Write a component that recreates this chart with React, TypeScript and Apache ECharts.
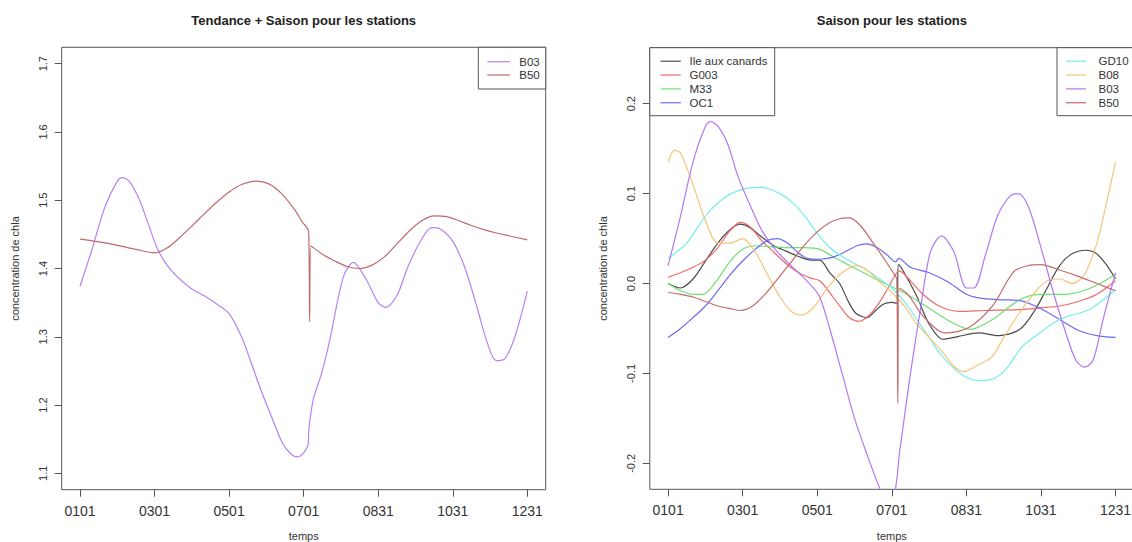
import React, { useEffect, useRef } from "react";
import * as echarts from "echarts";

const FONT = '"Liberation Sans", Arial, Helvetica, sans-serif';

// Axis ticks
const xTickDays = [0, 60, 120, 180, 240, 300, 360];
const xTickLabels = ["0101", "0301", "0501", "0701", "0831", "1031", "1231"];
const leftYTicks = [1.1, 1.2, 1.3, 1.4, 1.5, 1.6, 1.7];
const rightYTicks = [-0.2, -0.1, 0, 0.1, 0.2];

const titleLeft = "Tendance + Saison pour les stations";
const titleRight = "Saison pour les stations";
const xName = "temps";
const yName = "concentration de chla";

// ---- Left panel: Tendance + Saison ----
const totalB03 = [
  [0, 1.374], [10, 1.43], [20, 1.49], [30, 1.528], [34, 1.533], [40, 1.527], [48, 1.5],
  [55, 1.465], [62, 1.43], [70, 1.405], [80, 1.385], [90, 1.37], [100, 1.36], [110, 1.348], [120, 1.334],
  [130, 1.3], [137, 1.266], [145, 1.225], [153, 1.188], [163, 1.144], [170, 1.128], [175, 1.124],
  [180, 1.13], [183.5, 1.142], [184.2, 1.165], [186, 1.19], [188, 1.21], [195, 1.25], [201, 1.295],
  [212, 1.388], [220, 1.409], [230, 1.385], [240, 1.35], [246, 1.343], [255, 1.36], [264, 1.403],
  [274, 1.44], [283, 1.46], [290, 1.458], [300, 1.44], [310, 1.40], [320, 1.34], [328, 1.29],
  [335, 1.265], [342, 1.268], [350, 1.3], [360, 1.367],
];
const totalB50 = [
  [0, 1.443], [15, 1.439], [30, 1.434], [45, 1.428], [60, 1.423], [70, 1.43], [80, 1.445],
  [90, 1.462], [100, 1.48], [110, 1.497], [120, 1.512], [130, 1.523], [142, 1.528], [152, 1.524],
  [162, 1.51], [172, 1.488], [179, 1.468], [184, 1.454], [184.8, 1.322], [185.8, 1.433],
  [195, 1.421], [205, 1.411], [215, 1.403], [225, 1.4], [235, 1.405], [245, 1.417], [255, 1.436],
  [265, 1.455], [275, 1.47], [285, 1.477], [295, 1.476], [305, 1.47], [315, 1.463], [325, 1.457],
  [335, 1.452], [345, 1.448], [360, 1.442],
];

// ---- Right panel: Saison ----
const seasIle = [
  [0, 0.0], [10, -0.005], [20, 0.005], [30, 0.025], [40, 0.045], [50, 0.06], [58, 0.066],
  [65, 0.063], [75, 0.052], [85, 0.042], [95, 0.036], [105, 0.03], [115, 0.026], [122, 0.026],
  [130, 0.012], [138, 0.0], [145, -0.02], [151, -0.033], [160, -0.038], [167, -0.03], [173, -0.023],
  [180, -0.021], [184, -0.022], [185.5, 0.021], [190, 0.012], [200, -0.014], [210, -0.045],
  [221, -0.062], [233, -0.059], [250, -0.055], [266, -0.058], [283, -0.051], [295, -0.03],
  [305, -0.005], [315, 0.02], [325, 0.033], [336, 0.037], [344, 0.034], [352, 0.022], [360, 0.005],
];
const seasG003 = [
  [0, 0.007], [10, 0.012], [20, 0.018], [30, 0.026], [40, 0.04], [50, 0.059], [58, 0.068],
  [66, 0.063], [75, 0.048], [85, 0.035], [95, 0.022], [105, 0.012], [115, 0.006], [122, 0.003],
  [130, -0.01], [138, -0.025], [146, -0.038], [154, -0.042], [162, -0.035], [170, -0.021],
  [177, -0.005], [183, 0.01], [186, 0.014], [195, 0.003], [205, -0.012], [218, -0.025],
  [234, -0.031], [255, -0.03], [283, -0.029], [300, -0.027], [315, -0.025], [330, -0.02],
  [345, -0.012], [360, 0.003],
];
const seasM33 = [
  [0, 0.0], [10, -0.008], [20, -0.012], [28, -0.012], [40, 0.005], [50, 0.025], [60, 0.038],
  [70, 0.042], [80, 0.041], [95, 0.04], [110, 0.04], [122, 0.038], [135, 0.028], [146, 0.02],
  [160, 0.01], [170, 0.003], [185, -0.007], [203, -0.021], [224, -0.04], [243, -0.051],
  [261, -0.04], [283, -0.018], [300, -0.012], [320, -0.012], [340, -0.005], [360, 0.01],
];
const seasOC1 = [
  [0, -0.06], [10, -0.05], [20, -0.038], [30, -0.025], [40, -0.008], [50, 0.01], [60, 0.025],
  [70, 0.038], [80, 0.048], [88, 0.05], [96, 0.045], [104, 0.035], [112, 0.028], [122, 0.027],
  [132, 0.029], [142, 0.035], [152, 0.042], [160, 0.044], [168, 0.04], [176, 0.032], [183, 0.024],
  [185.5, 0.028], [195, 0.018], [210, 0.012], [225, 0.002], [240, -0.012], [250, -0.016],
  [265, -0.018], [283, -0.019], [300, -0.028], [315, -0.04], [330, -0.052], [345, -0.058],
  [360, -0.06],
];
const seasGD10 = [
  [0, 0.028], [15, 0.045], [30, 0.075], [45, 0.095], [60, 0.105], [75, 0.107], [90, 0.1],
  [100, 0.09], [110, 0.075], [120, 0.056], [130, 0.04], [140, 0.03], [150, 0.022], [160, 0.015],
  [170, 0.005], [180, -0.005], [190, -0.02], [200, -0.04], [210, -0.06], [220, -0.08],
  [235, -0.1], [250, -0.108], [262, -0.106], [272, -0.095], [285, -0.07], [299, -0.055],
  [315, -0.04], [340, -0.028], [360, -0.007],
];
const seasB08 = [
  [0, 0.135], [5, 0.148], [10, 0.145], [20, 0.11], [30, 0.07], [40, 0.045], [50, 0.045],
  [60, 0.05], [70, 0.035], [80, 0.01], [90, -0.015], [100, -0.032], [108, -0.035], [118, -0.025],
  [128, -0.005], [140, 0.012], [152, 0.02], [160, 0.015], [170, 0.002], [180, -0.01],
  [190, -0.025], [200, -0.045], [210, -0.06], [220, -0.075], [230, -0.092], [238, -0.098],
  [250, -0.09], [261, -0.081], [270, -0.06], [283, -0.032], [295, -0.01], [305, 0.003],
  [315, 0.005], [325, 0.0], [335, 0.01], [345, 0.045], [352, 0.085], [360, 0.135],
];
const seasB03 = [
  [0, 0.02], [10, 0.075], [20, 0.135], [30, 0.175], [34, 0.18], [40, 0.175], [48, 0.155],
  [56, 0.12], [65, 0.09], [75, 0.06], [85, 0.04], [95, 0.025], [105, 0.012], [115, -0.002], [122, -0.015],
  [130, -0.05], [140, -0.1], [150, -0.15], [160, -0.19], [170, -0.227], [176, -0.245],
  [181, -0.24], [184, -0.218], [186, -0.19], [188, -0.17], [195, -0.1], [203, -0.029],
  [211, 0.035], [220, 0.053], [230, 0.035], [240, -0.005], [246, -0.005], [255, 0.03],
  [265, 0.075], [275, 0.097], [282, 0.1], [290, 0.085], [300, 0.04], [310, -0.01], [320, -0.055],
  [328, -0.085], [335, -0.093], [342, -0.085], [350, -0.04], [360, 0.012],
];
const seasB50 = [
  [0, -0.01], [10, -0.012], [20, -0.015], [30, -0.02], [40, -0.025], [50, -0.028], [58, -0.03],
  [68, -0.025], [78, -0.012], [88, 0.005], [98, 0.022], [108, 0.04], [118, 0.055], [128, 0.066],
  [138, 0.072], [146, 0.073], [155, 0.064], [165, 0.045], [175, 0.025], [182, 0.01], [184, 0.005],
  [184.8, -0.133], [185.8, -0.005], [193, -0.012], [205, -0.036], [223, -0.055], [242, -0.049],
  [261, -0.025], [278, 0.013], [290, 0.02], [300, 0.021], [315, 0.015], [330, 0.008], [345, 0.0],
  [360, -0.008],
];

const leftSeries = [
  { name: "B03", data: totalB03, color: "#b484f2" },
  { name: "B50", data: totalB50, color: "#c06a6a" },
];
const rightSeries = [
  { name: "Ile aux canards", data: seasIle, color: "#4a4a4a" },
  { name: "G003", data: seasG003, color: "#f06a6a" },
  { name: "M33", data: seasM33, color: "#70e070" },
  { name: "OC1", data: seasOC1, color: "#6c6cf0" },
  { name: "GD10", data: seasGD10, color: "#72eeee" },
  { name: "B08", data: seasB08, color: "#f8c478" },
  { name: "B03", data: seasB03, color: "#b478f2" },
  { name: "B50", data: seasB50, color: "#c46a6a" },
];
const rightLegendA = ["Ile aux canards", "G003", "M33", "OC1"];
const rightLegendB = ["GD10", "B08", "B03", "B50"];

const AXIS_COLOR = "#555";
const TEXT_COLOR = "#333";

function makeXAxis(gridIndex: number) {
  return {
    type: "value",
    gridIndex,
    position: "bottom",
    min: -14.75,
    max: 374.8,
    name: xName,
    nameLocation: "middle",
    nameGap: 41,
    nameTextStyle: { fontSize: 11, color: TEXT_COLOR, fontFamily: FONT },
    splitLine: { show: false },
    axisLine: { show: false, onZero: false },
    axisTick: {
      show: true,
      inside: false,
      length: 7,
      customValues: xTickDays,
      lineStyle: { color: AXIS_COLOR, width: 1 },
    },
    axisLabel: {
      customValues: xTickDays,
      formatter: (v: number) => {
        const i = xTickDays.indexOf(Math.round(v));
        return i >= 0 ? xTickLabels[i] : "";
      },
      margin: 14,
      fontSize: 14,
      color: TEXT_COLOR,
      fontFamily: FONT,
    },
  };
}

function makeYAxis(gridIndex: number, min: number, max: number, ticks: number[]) {
  return {
    type: "value",
    gridIndex,
    position: "left",
    min,
    max,
    name: yName,
    nameLocation: "middle",
    nameGap: 41,
    nameTextStyle: { fontSize: 11, color: TEXT_COLOR, fontFamily: FONT },
    splitLine: { show: false },
    axisLine: { show: false, onZero: false },
    axisTick: {
      show: true,
      inside: false,
      length: 7,
      customValues: ticks,
      lineStyle: { color: AXIS_COLOR, width: 1 },
    },
    axisLabel: {
      customValues: ticks,
      rotate: 90,
      formatter: (v: number) => v.toFixed(1),
      margin: 13,
      fontSize: 11,
      color: TEXT_COLOR,
      fontFamily: FONT,
    },
  };
}

function legendBox(
  names: string[],
  colorOf: (n: string) => string,
  box: { x: number; y: number; w: number; h: number },
  lineX1: number,
  lineX2: number,
  textX: number,
  firstY: number,
  gap: number
) {
  const children: any[] = [
    {
      type: "rect",
      shape: { x: box.x, y: box.y, width: box.w, height: box.h },
      style: { fill: "#fff", stroke: AXIS_COLOR, lineWidth: 1 },
    },
  ];
  names.forEach((n, i) => {
    const y = firstY + gap * i;
    children.push({
      type: "line",
      shape: { x1: lineX1, y1: y, x2: lineX2, y2: y },
      style: { stroke: colorOf(n), lineWidth: 1.2 },
    });
    children.push({
      type: "text",
      x: textX,
      y,
      style: {
        text: n,
        fill: TEXT_COLOR,
        fontSize: 11.5,
        fontFamily: FONT,
        verticalAlign: "middle",
        align: "left",
      },
    });
  });
  return { type: "group", z: 100, children };
}

export default function App() {
  const ref = useRef<HTMLDivElement>(null);

  useEffect(() => {
    document.body.style.margin = "0";
    if (!ref.current) return;
    const chart = echarts.init(ref.current, undefined, { renderer: "svg" });

    const leftColor = (n: string) => leftSeries.find((s) => s.name === n)!.color;
    const rightColor = (n: string) => rightSeries.find((s) => s.name === n)!.color;

    const series: any[] = [];
    leftSeries.forEach((s) =>
      series.push({
        type: "line",
        name: s.name,
        xAxisIndex: 0,
        yAxisIndex: 0,
        data: s.data,
        showSymbol: false,
        symbol: "none",
        smooth: 0.3,
        clip: true,
        lineStyle: { color: s.color, width: 1.2 },
        itemStyle: { color: s.color },
      })
    );
    rightSeries.forEach((s) =>
      series.push({
        type: "line",
        name: s.name,
        xAxisIndex: 1,
        yAxisIndex: 1,
        data: s.data,
        showSymbol: false,
        symbol: "none",
        smooth: 0.3,
        clip: true,
        lineStyle: { color: s.color, width: 1.2 },
        itemStyle: { color: s.color },
      })
    );

    const option: any = {
      animation: false,
      backgroundColor: "#ffffff",
      textStyle: { fontFamily: FONT },
      title: [
        {
          text: titleLeft,
          left: 303.7,
          top: 14,
          textAlign: "center",
          padding: 0,
          textStyle: { fontSize: 13, fontWeight: "bold", color: "#222", fontFamily: FONT },
        },
        {
          text: titleRight,
          left: 891.9,
          top: 14,
          textAlign: "center",
          padding: 0,
          textStyle: { fontSize: 13, fontWeight: "bold", color: "#222", fontFamily: FONT },
        },
      ],
      grid: [
        {
          left: 61.7,
          top: 47.3,
          width: 484,
          height: 442.4,
          show: true,
          borderColor: AXIS_COLOR,
          borderWidth: 1,
          backgroundColor: "transparent",
          containLabel: false,
          outerBoundsMode: "none",
        },
        {
          left: 649.8,
          top: 47.7,
          width: 484.1,
          height: 441.6,
          show: true,
          borderColor: AXIS_COLOR,
          borderWidth: 1,
          backgroundColor: "transparent",
          containLabel: false,
          outerBoundsMode: "none",
        },
      ],
      xAxis: [makeXAxis(0), makeXAxis(1)],
      yAxis: [
        makeYAxis(0, 1.076, 1.724, leftYTicks),
        makeYAxis(1, -0.2289, 0.2623, rightYTicks),
      ],
      series,
      graphic: [
        legendBox(
          leftSeries.map((s) => s.name),
          leftColor,
          { x: 478.3, y: 47.3, w: 67.4, h: 41.7 },
          487.3,
          510,
          519.3,
          61.7,
          13.3
        ),
        legendBox(
          rightLegendA,
          rightColor,
          { x: 649.8, y: 47.7, w: 124.9, h: 68 },
          660.6,
          680.8,
          689.5,
          61.2,
          13.85
        ),
        legendBox(
          rightLegendB,
          rightColor,
          { x: 1057, y: 47.7, w: 80, h: 68 },
          1066,
          1086,
          1098.5,
          61.2,
          13.85
        ),
      ],
    };

    chart.setOption(option);
    return () => {
      chart.dispose();
    };
  }, []);

  return <div ref={ref} style={{ width: 1132, height: 542 }} />;
}
